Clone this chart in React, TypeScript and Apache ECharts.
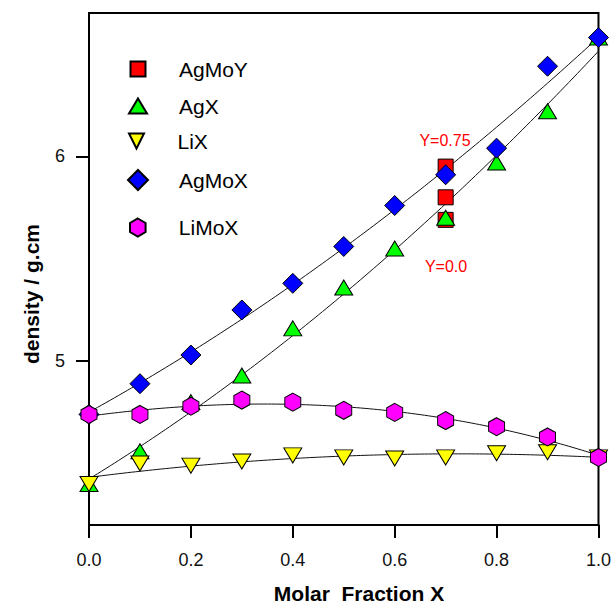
import React, { useEffect, useRef } from 'react';
import * as echarts from 'echarts';

// ---- data ----
const xValues = [0, 0.1, 0.2, 0.3, 0.4, 0.5, 0.6, 0.7, 0.8, 0.9, 1.0];
const agMoX = [4.74, 4.89, 5.03, 5.25, 5.38, 5.56, 5.76, 5.91, 6.04, 6.44, 6.58];
const agX = [4.40, 4.56, 4.80, 4.93, 5.16, 5.36, 5.55, 5.70, 5.97, 6.22, 6.58];
const liX = [4.40, 4.50, 4.49, 4.51, 4.54, 4.53, 4.525, 4.53, 4.55, 4.555, 4.53];
const liMoX = [4.74, 4.74, 4.78, 4.81, 4.80, 4.76, 4.75, 4.71, 4.68, 4.63, 4.53];
const agMoYX = [0.7, 0.7, 0.7];
const agMoY = [5.95, 5.80, 5.69];
const annotations = ['Y=0.75', 'Y=0.0'];
const yTickValues = [5, 6];
const xTitle = 'Molar  Fraction X';
const yTitle = 'density / g.cm';

const DOWN_TRI = 'path://M0,0 L2,0 L1,2 Z';
const HEXAGON = 'path://M0.866,0 L1.732,0.5 L1.732,1.5 L0.866,2 L0,1.5 L0,0.5 Z';

function polyFit(xs: number[], ys: number[], deg: number): number[] {
  const n = deg + 1;
  const A: number[][] = Array.from({ length: n }, () => new Array(n + 1).fill(0));
  for (let k = 0; k < xs.length; k++) {
    for (let i = 0; i < n; i++) {
      for (let j = 0; j < n; j++) A[i][j] += Math.pow(xs[k], i + j);
      A[i][n] += ys[k] * Math.pow(xs[k], i);
    }
  }
  for (let i = 0; i < n; i++) {
    let p = i;
    for (let r = i + 1; r < n; r++) if (Math.abs(A[r][i]) > Math.abs(A[p][i])) p = r;
    const tmp = A[i]; A[i] = A[p]; A[p] = tmp;
    for (let r = 0; r < n; r++) {
      if (r !== i) {
        const f = A[r][i] / A[i][i];
        for (let c = i; c <= n; c++) A[r][c] -= f * A[i][c];
      }
    }
  }
  return A.map((row, i) => row[n] / row[i]);
}

function fitCurve(xs: number[], ys: number[], deg: number): number[][] {
  const c = polyFit(xs, ys, deg);
  const out: number[][] = [];
  const x0 = Math.min(...xs);
  const x1 = Math.max(...xs);
  const steps = 120;
  for (let s = 0; s <= steps; s++) {
    const x = x0 + ((x1 - x0) * s) / steps;
    let y = 0;
    for (let i = 0; i < c.length; i++) y += c[i] * Math.pow(x, i);
    out.push([x, y]);
  }
  return out;
}

const pairs = (xs: number[], ys: number[]) => xs.map((x, i) => [x, ys[i]]);

const FONT = '"Liberation Sans", Arial, Helvetica, sans-serif';

export default function App() {
  const ref = useRef<HTMLDivElement>(null);
  useEffect(() => {
    document.body.style.margin = '0';
    if (!ref.current) return;
    const chart = echarts.init(ref.current, undefined, { renderer: 'svg' });

    const border = { borderColor: '#000', borderWidth: 1, opacity: 1 };
    const fitLine = (name: string, ys: number[], deg: number) => ({
      name,
      type: 'line',
      data: fitCurve(xValues, ys, deg),
      showSymbol: false,
      symbol: 'none',
      silent: true,
      lineStyle: { color: '#111', width: 1 },
      z: 1,
    });

    const legendRows = [
      { name: 'AgMoY', icon: 'rect', w: 15, h: 15, cy: 66 },
      { name: 'AgX', icon: 'triangle', w: 18, h: 15, cy: 103 },
      { name: 'LiX', icon: DOWN_TRI, w: 18, h: 15, cy: 138 },
      { name: 'AgMoX', icon: 'diamond', w: 20, h: 20, cy: 179 },
      { name: 'LiMoX', icon: HEXAGON, w: 16, h: 18, cy: 226 },
    ];

    const scatter = (name: string, xs: number[], ys: number[], symbol: string, size: number[], color: string) => ({
      name,
      type: 'scatter',
      data: pairs(xs, ys),
      symbol,
      symbolSize: size,
      itemStyle: { color, ...border },
      emphasis: { disabled: true },
      z: 3,
    });

    chart.setOption({
      animation: false,
      backgroundColor: '#fff',
      grid: {
        left: 89,
        top: 13,
        right: 13,
        bottom: 79,
        show: true,
        borderColor: '#000',
        borderWidth: 2,
        backgroundColor: 'transparent',
      },
      legend: legendRows.map((r) => ({
        left: 137 - r.w / 2,
        top: r.cy - r.h / 2,
        orient: 'vertical',
        padding: 0,
        itemWidth: r.w,
        itemHeight: r.h,
        selectedMode: false,
        data: [{ name: r.name, icon: r.icon }],
        textStyle: {
          fontSize: 21,
          fontFamily: FONT,
          color: '#000',
          padding: [0, 0, 0, 36 - r.w / 2],
        },
      })),
      xAxis: {
        type: 'value',
        min: 0,
        max: 1,
        interval: 0.2,
        axisLine: { show: true, lineStyle: { color: '#000', width: 2 } },
        axisTick: { show: true, inside: false, length: 13, lineStyle: { color: '#000', width: 2 } },
        axisLabel: {
          fontSize: 18,
          fontFamily: FONT,
          color: '#111',
          margin: 26,
          formatter: (v: number) => v.toFixed(1),
        },
        splitLine: { show: false },
      },
      yAxis: {
        type: 'value',
        min: 4.2,
        max: 6.7,
        axisLine: { show: true, lineStyle: { color: '#000', width: 2 } },
        axisTick: {
          show: true,
          inside: false,
          length: 13,
          customValues: yTickValues,
          lineStyle: { color: '#000', width: 2 },
        },
        axisLabel: {
          fontSize: 18,
          fontFamily: FONT,
          color: '#111',
          margin: 24,
          customValues: yTickValues,
          padding: [6, 0, 0, 0],
        },
        splitLine: { show: false },
      },
      graphic: [
        {
          type: 'text',
          x: 31,
          y: 294,
          rotation: Math.PI / 2,
          style: {
            text: yTitle,
            align: 'center',
            verticalAlign: 'middle',
            fontSize: 21,
            fontWeight: 'bold',
            fontFamily: FONT,
            fill: '#000',
          },
        },
        {
          type: 'text',
          x: 359,
          y: 593,
          style: {
            text: xTitle,
            align: 'center',
            verticalAlign: 'middle',
            fontSize: 21,
            fontWeight: 'bold',
            fontFamily: FONT,
            fill: '#000',
          },
        },
        {
          type: 'text',
          x: 445,
          y: 140,
          style: {
            text: annotations[0],
            align: 'center',
            verticalAlign: 'middle',
            fontSize: 16,
            fontFamily: FONT,
            fill: '#ff0000',
          },
        },
        {
          type: 'text',
          x: 446,
          y: 266,
          style: {
            text: annotations[1],
            align: 'center',
            verticalAlign: 'middle',
            fontSize: 16,
            fontFamily: FONT,
            fill: '#ff0000',
          },
        },
      ],
      series: [
        fitLine('AgMoX fit', agMoX, 2),
        fitLine('AgX fit', agX, 2),
        fitLine('LiX fit', liX, 2),
        fitLine('LiMoX fit', liMoX, 3),
        scatter('AgMoY', agMoYX, agMoY, 'rect', [15, 15], '#ff0000'),
        scatter('AgX', xValues, agX, 'triangle', [18, 15], '#00ff00'),
        scatter('LiX', xValues, liX, DOWN_TRI, [18, 15], '#ffff00'),
        scatter('AgMoX', xValues, agMoX, 'diamond', [20, 20], '#0000ff'),
        scatter('LiMoX', xValues, liMoX, HEXAGON, [16, 18], '#ff00ff'),
      ],
    });
    return () => chart.dispose();
  }, []);
  return <div ref={ref} style={{ width: 614, height: 604 }} />;
}
